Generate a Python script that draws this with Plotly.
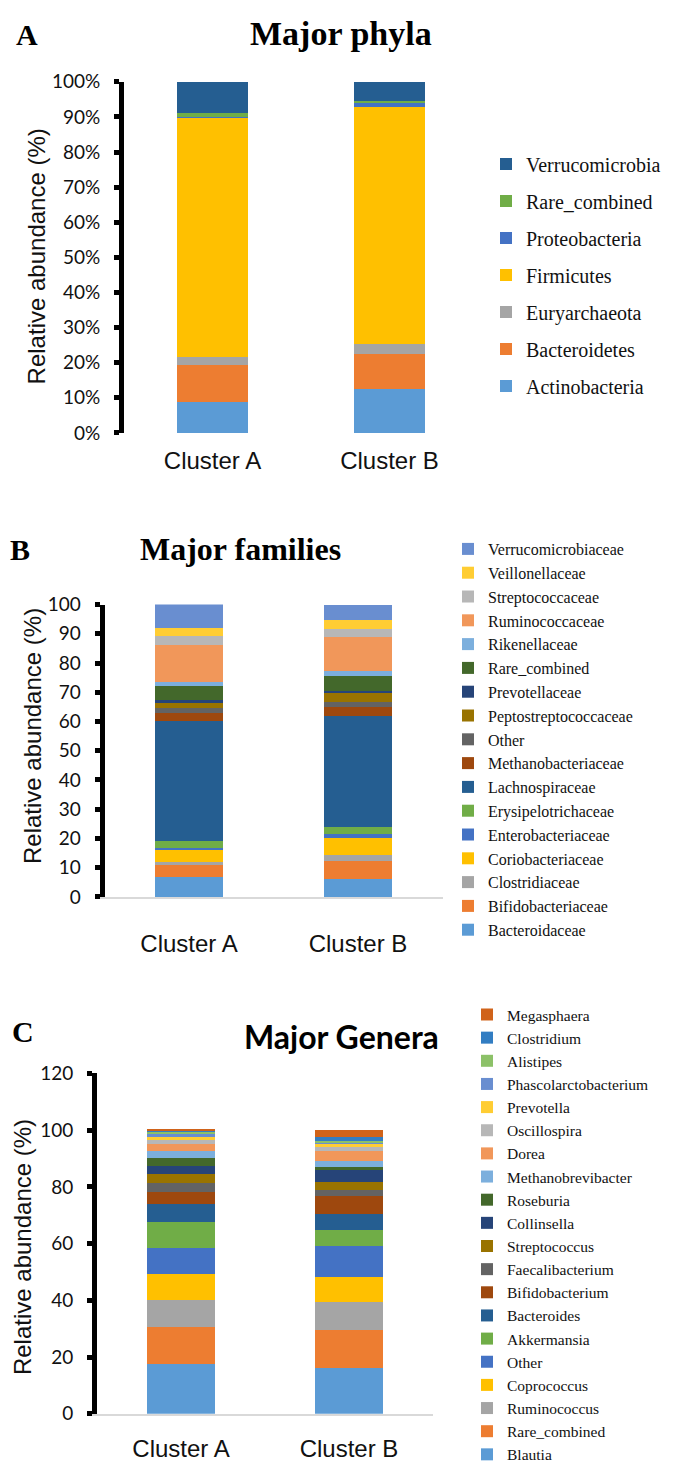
import plotly.graph_objects as go

W, H = 689, 1463
def X(px): return px / W
def Y(py): return 1 - py / H

clusters = ["Cluster A", "Cluster B"]

# ---------- Panel A: phyla ----------
phyla = ["Actinobacteria", "Bacteroidetes", "Euryarchaeota", "Firmicutes",
         "Proteobacteria", "Rare_combined", "Verrucomicrobia"]
phyla_a = [8.7, 10.6, 2.4, 68.1, 0.2, 1.1, 8.9]
phyla_b = [12.4, 10.0, 3.0, 67.4, 1.4, 0.3, 5.5]
phyla_colors = ["#5B9BD5", "#ED7D31", "#A5A5A5", "#FFC000", "#4472C4", "#70AD47", "#255E91"]

# ---------- Panel B: families ----------
families = ["Bacteroidaceae", "Bifidobacteriaceae", "Clostridiaceae", "Coriobacteriaceae",
            "Enterobacteriaceae", "Erysipelotrichaceae", "Lachnospiraceae",
            "Methanobacteriaceae", "Other", "Peptostreptococcaceae", "Prevotellaceae",
            "Rare_combined", "Rikenellaceae", "Ruminococcaceae", "Streptococcaceae",
            "Veillonellaceae", "Verrucomicrobiaceae"]
families_a = [6.7, 4.1, 1.1, 4.5, 0.2, 2.5, 41.2, 2.6, 1.7, 1.9, 0.8, 4.8, 1.5, 12.5, 3.2, 2.7, 8.2]
families_b = [6.0, 6.2, 2.2, 5.8, 1.2, 2.5, 37.9, 3.0, 1.9, 3.0, 0.9, 5.0, 1.8, 11.5, 2.8, 3.0, 5.3]
families_colors = ["#5B9BD5", "#ED7D31", "#A5A5A5", "#FFC000", "#4472C4", "#70AD47", "#255E91",
                   "#9E480E", "#636363", "#997300", "#264478", "#43682B", "#7CAFDD", "#F1975A",
                   "#B7B7B7", "#FFCD33", "#698ED0"]

# ---------- Panel C: genera ----------
genera = ["Blautia", "Rare_combined", "Ruminococcus", "Coprococcus", "Other", "Akkermansia",
          "Bacteroides", "Bifidobacterium", "Faecalibacterium", "Streptococcus", "Collinsella",
          "Roseburia", "Methanobrevibacter", "Dorea", "Oscillospira", "Prevotella",
          "Phascolarctobacterium", "Alistipes", "Clostridium", "Megasphaera"]
genera_a = [17.7, 12.9, 9.5, 9.3, 9.2, 8.9, 6.6, 4.1, 3.2, 3.1, 2.9, 2.8, 2.4, 2.6, 1.2, 1.3, 0.9, 0.9, 0.3, 0.2]
genera_b = [16.1, 13.5, 9.8, 8.8, 11.1, 5.5, 5.8, 6.1, 2.1, 2.9, 4.4, 0.9, 2.2, 3.3, 1.7, 1.0, 0.35, 0.7, 1.4, 2.3]
genera_colors = ["#5B9BD5", "#ED7D31", "#A5A5A5", "#FFC000", "#4472C4", "#70AD47", "#255E91",
                 "#9E480E", "#636363", "#997300", "#264478", "#43682B", "#7CAFDD", "#F1975A",
                 "#B7B7B7", "#FFCD33", "#698ED0", "#8CC168", "#327DC2", "#D0631A"]

fig = go.Figure()

def add_panel(names, va, vb, colors, xa, ya, leg):
    for i, (n, a, b, c) in enumerate(zip(names, va, vb, colors)):
        fig.add_trace(go.Bar(
            x=clusters, y=[a, b], name=n,
            marker=dict(color=c, line=dict(width=0)),
            xaxis=xa, yaxis=ya, legend=leg, legendgroup=leg + n,
            legendrank=1000 - i,
            hovertemplate="%{x}<br>" + n + ": %{y}<extra></extra>"))

add_panel(phyla, phyla_a, phyla_b, phyla_colors, "x", "y", "legend")
add_panel(families, families_a, families_b, families_colors, "x2", "y2", "legend2")
add_panel(genera, genera_a, genera_b, genera_colors, "x3", "y3", "legend3")

tickfont = dict(family="Lato", size=19, color="#111")
catfont = dict(family="Liberation Sans", size=24, color="#111")

def yaxis_common(rng, dtick, suffix=""):
    return dict(range=rng, dtick=dtick, ticksuffix=suffix, showline=True, linecolor="black",
                linewidth=5, ticks="outside", ticklen=5, tickwidth=5, tickcolor="black",
                showgrid=False, zeroline=False, tickfont=tickfont, ticklabelstandoff=10,
                fixedrange=True)

legfont = "Liberation Serif"

fig.update_layout(
    width=W, height=H, margin=dict(l=0, r=0, t=0, b=0),
    paper_bgcolor="white", plot_bgcolor="white",
    barmode="stack", bargap=0.6, showlegend=True,
    xaxis=dict(domain=[X(116), X(470)], anchor="y", showline=False, ticks="",
               tickfont=catfont, ticklabelstandoff=11, showgrid=False),
    yaxis=dict(domain=[Y(421), Y(63)], anchor="x", **yaxis_common([0, 100], 10, "%")),
    xaxis2=dict(domain=[X(96.5), X(434.5)], anchor="y2", showline=True, linecolor="#D9D9D9",
                linewidth=1.5, ticks="", tickfont=catfont, ticklabelstandoff=25, showgrid=False),
    yaxis2=dict(domain=[Y(894), Y(596)], anchor="x2", **yaxis_common([0, 100], 10)),
    xaxis3=dict(domain=[X(89), X(425)], anchor="y3", showline=True, linecolor="#D9D9D9",
                linewidth=1.5, ticks="", tickfont=catfont, ticklabelstandoff=13, showgrid=False),
    yaxis3=dict(domain=[Y(1421), Y(1074)], anchor="x3", **yaxis_common([0, 120], 20)),
    legend=dict(x=X(478), y=Y(127), xanchor="left", yanchor="top",
                font=dict(family=legfont, size=20, color="#111"),
                traceorder="grouped", tracegroupgap=8, bgcolor="rgba(0,0,0,0)"),
    legend2=dict(x=X(440), y=Y(522), xanchor="left", yanchor="top",
                 font=dict(family=legfont, size=16, color="#111"),
                 traceorder="grouped", tracegroupgap=0, bgcolor="rgba(0,0,0,0)"),
    legend3=dict(x=X(459), y=Y(997), xanchor="left", yanchor="top",
                 font=dict(family=legfont, size=15.5, color="#111"),
                 traceorder="grouped", tracegroupgap=0, bgcolor="rgba(0,0,0,0)"),
)

serif_b = dict(family="Liberation Serif", size=30, color="black")
ytitle_font = dict(family="Liberation Sans", size=24, color="#111")

ann = [
    dict(text="<b>A</b>", x=X(6), y=Y(15), xanchor="left", yanchor="middle", font=serif_b),
    dict(text="<b>Major phyla</b>", x=X(333), y=Y(14), xanchor="center", yanchor="middle",
         font=dict(family="Liberation Serif", size=34, color="black")),
    dict(text="Relative abundance (%)", x=X(28), y=Y(241), textangle=-90,
         xanchor="center", yanchor="middle", font=ytitle_font),
    dict(text="<b>B</b>", x=X(0), y=Y(540), xanchor="left", yanchor="middle", font=serif_b),
    dict(text="<b>Major families</b>", x=X(130), y=Y(539), xanchor="left", yanchor="middle",
         font=dict(family="Liberation Serif", size=32, color="black")),
    dict(text="Relative abundance (%)", x=X(24), y=Y(730), textangle=-90,
         xanchor="center", yanchor="middle", font=ytitle_font),
    dict(text="<b>C</b>", x=X(2), y=Y(1031), xanchor="left", yanchor="middle", font=serif_b),
    dict(text="<b>Major Genera</b>", x=X(234), y=Y(1036), xanchor="left", yanchor="middle",
         font=dict(family="Lato", size=32, color="black")),
    dict(text="Relative abundance (%)", x=X(14), y=Y(1251), textangle=-90,
         xanchor="center", yanchor="middle", font=ytitle_font),
]
for a in ann:
    a.update(xref="paper", yref="paper", showarrow=False)
fig.update_layout(annotations=ann)

fig.write_html("out.html")
